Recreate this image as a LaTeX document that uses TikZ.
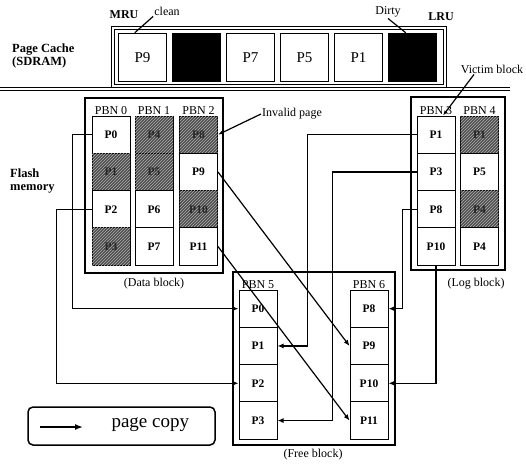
\documentclass[tikz,border=0pt]{standalone}
\usepackage{fontspec}
\setmainfont{Liberation Serif}
\usetikzlibrary{arrows.meta,patterns}
\newcommand{\fs}[1]{\fontsize{#1}{#1}\selectfont}
% one column of pages: name, x centre, y top, list of label/style
\newcommand{\pagecol}[4]{%
  \foreach \l/\s [count=\i] in {#4} {
    \node[\s] (#1-\i) at (#2,{#3+(\i-0.5)*37.3}) {\l};
  }}
\tikzset{
  cell/.style={draw, line width=1pt, minimum width=38pt, minimum height=37.3pt, inner sep=0pt, font=\fs{11.5}\bfseries},
  ok/.style={cell, fill=white},
  bad/.style={cell, fill=black!70, text=black!85, postaction={pattern=north east lines, pattern color=black!30}},
  cc/.style={draw, line width=1.5pt, fill=white, minimum size=48pt, inner sep=0pt, font=\fs{15}},
  dc/.style={cc, fill=black},
  frame/.style={line width=1.8pt},
  hdr/.style={font=\fs{12}, inner sep=1pt},
  lbl/.style={font=\fs{12}, inner sep=1pt},
  side/.style={font=\fs{12.5}\bfseries, align=left, anchor=west, inner sep=0pt},
  copy/.style={line width=1.2pt, -{Latex[length=6pt, width=5pt]}},
}
\begin{document}
\begin{tikzpicture}[x=1pt, y=-1pt]
    \useasboundingbox (0,0) rectangle (526,463);
    % page cache
    \node[side] (pcache) at (12,56) {Page Cache\\(SDRAM)};
    \draw[line width=1pt, double distance=1.2pt] (113,28) rectangle (445,86);
    \foreach \l/\s [count=\i] in {P9/cc,/dc,P7/cc,P5/cc,P1/cc,/dc}
      \node[\s] (c\i) at ({88.5+54*\i},57.5) {\l};
    \node[lbl, font=\fs{12}\bfseries] (mru) at (124,15) {MRU};
    \node[lbl] (clean) at (167,11) {clean};
    \node[lbl] (dirty) at (388,12) {Dirty};
    \node[lbl, font=\fs{12}\bfseries] (lru) at (441,17) {LRU};
    \draw[line width=1.2pt] (clean.south west) -- ([xshift=17pt]c1.north west);
    \draw[line width=1.2pt] (dirty.south) -- ([xshift=18pt]c6.north west);
    \draw[line width=1pt, double distance=1.4pt] (0,89) -- (510,89);

    % flash memory
    \node[side] (flash) at (10,181) {Flash\\memory};
    \draw[frame] (85,98) rectangle (223,273);
    \draw[frame] (411,97) rectangle (505,270);
    \draw[frame] (233,272) rectangle (395,445);
    \pagecol{d0}{111}{116}{P0/ok,P1/bad,P2/ok,P3/bad}
    \pagecol{d1}{154}{116}{P4/bad,P5/bad,P6/ok,P7/ok}
    \pagecol{d2}{198.5}{116}{P8/bad,P9/ok,P10/bad,P11/ok}
    \pagecol{l3}{436}{116}{P1/ok,P3/ok,P8/ok,P10/ok}
    \pagecol{l4}{479.5}{116}{P1/bad,P5/ok,P4/bad,P4/ok}
    \pagecol{f5}{258}{290}{P0/ok,P1/ok,P2/ok,P3/ok}
    \pagecol{f6}{369}{290}{P8/ok,P9/ok,P10/ok,P11/ok}
    \foreach \c/\n in {d0/0,d1/1,d2/2,l3/3,l4/4,f5/5,f6/6}
      \node[hdr, anchor=south] (h\n) at (\c-1.north) {PBN \n};
    \node[lbl] (dcap) at (154,284) {(Data block)};
    \node[lbl] (lcap) at (476,284) {(Log block)};
    \node[lbl] (fcap) at (313,455) {(Free block)};
    \node[lbl] (invalid) at (292,114) {Invalid page};
    \node[lbl] (victim) at (492,69) {Victim block};
    \draw[line width=1.2pt, -{Latex[length=5pt]}] (invalid.west) -- (d2-1.east);
    \draw[line width=1.2pt, -{Latex[length=5pt]}] ([xshift=-18pt]victim.south) -- ([xshift=7pt]l3-1.north);

    % page copies
    \draw[copy] (d0-1.west) -- ++(-19,0) |- (f5-1.west);
    \draw[copy] (d0-3.west) -- ++(-35,0) |- (f5-3.west);
    \draw[copy] (l3-1.west) -- ++(-109,0) |- (f5-2.east);
    \draw[copy] (l3-2.west) -- ++(-84,0) |- (f5-4.east);
    \draw[copy] (l3-3.west) -- ++(-14,0) |- (f6-1.east);
    \draw[copy] (l3-4.south) |- (f6-3.east);
    \draw[copy] (d2-2.east) -- (f6-2.west);
    \draw[copy] (d2-4.east) -- (f6-4.west);

    % legend
    \draw[line width=1.5pt, rounded corners=5pt] (28,407) rectangle (215,445);
    \coordinate (k0) at (40,427);
    \node[font=\fs{19}, anchor=west] (key) at (108,425) {page copy};
    \draw[line width=1.5pt, -{Latex[length=8pt, width=6pt]}] (k0) -- ++(43,0);
\end{tikzpicture}
\end{document}
